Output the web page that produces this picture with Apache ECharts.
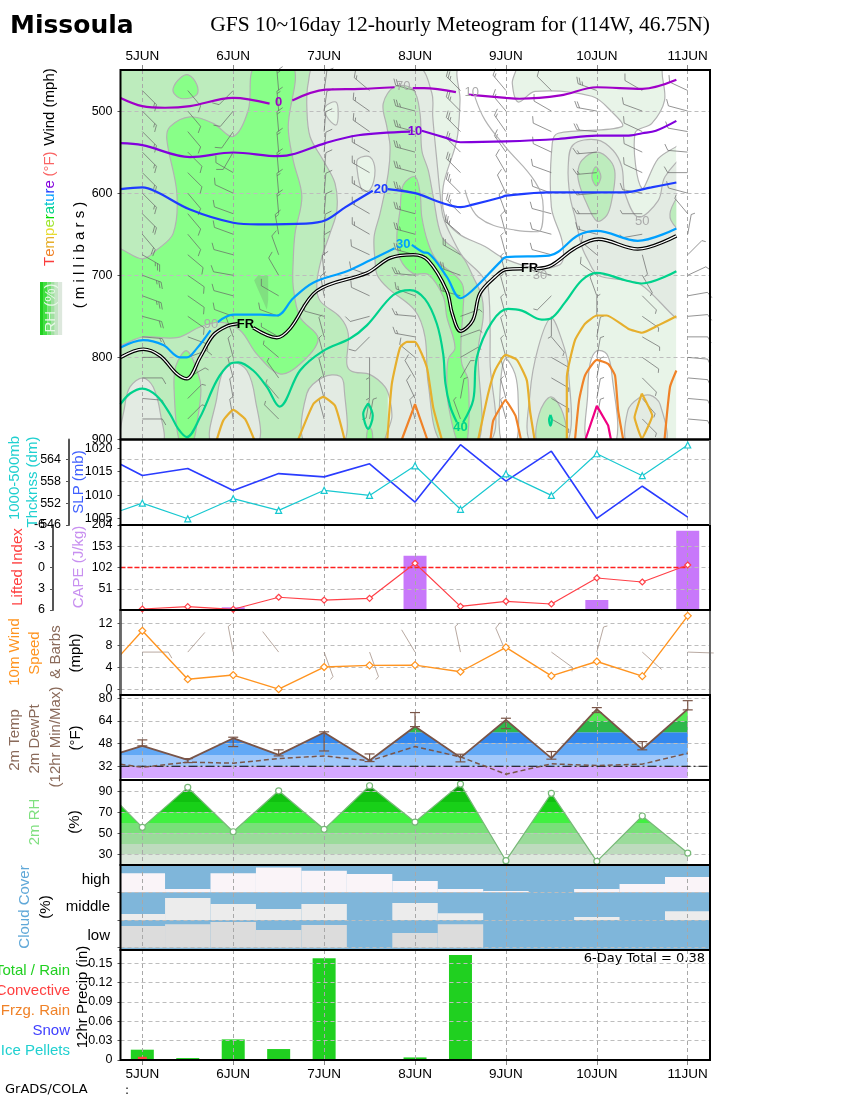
<!DOCTYPE html>
<html>
<head>
<meta charset="utf-8">
<style>html,body{margin:0;padding:0;background:#fff}#chart{width:850px;height:1100px}</style>
<script src="https://cdn.jsdelivr.net/npm/echarts@6/dist/echarts.min.js"></script>
</head>
<body>
<div id="chart"></div>
<script>
// x axis of every panel = half days since 5JUN 00Z
var T_MIN = -0.48, T_MAX = 12.49, T_EDGE = -0.48;
var dayTicks = [0, 2, 4, 6, 8, 10, 12];
var dayLabels = ['5JUN', '6JUN', '7JUN', '8JUN', '9JUN', '10JUN', '11JUN'];
var steps = [0, 1, 2, 3, 4, 5, 6, 7, 8, 9, 10, 11, 12];
var edgeSteps = [T_EDGE].concat(steps);

// ---- surface panels
var slp = [1016.6, 1014.2, 1015.7, 1011.0, 1014.6, 1013.9, 1016.7, 1008.5, 1020.8, 1013.0, 1019.4, 1005.0, 1011.9, 1005.3];
var thickness = [549.9, 552, 547.7, 553.2, 550, 555.5, 554.1, 562.2, 550.3, 560, 554.1, 565.5, 559.5, 567.9];
var liftedIndex = [5.86, 5.53, 5.9, 4.2, 4.6, 4.35, -0.6, 5.48, 4.77, 5.15, 1.48, 2.05, -0.35];
var capeSteps = [2, 6, 10, 12];
var cape = [6.5, 130, 24, 190];
var wind10m = [6.3, 10.65, 1.9, 2.65, 0.1, 4.1, 4.4, 4.45, 3.25, 7.65, 2.5, 5.1, 2.45, 13.35];
var sfcBarbDir = [90, 41, 349, 322, 160, 160, 329, 348, 337, 126, 15, 132, 92];
var sfcBarbSpeed = [10, 2, 5, 2, 5, 5, 2, 5, 10, 5, 5, 2, 2];
var temp2m = [41.6, 46.4, 36.5, 51.8, 40, 55.8, 36, 60, 38.1, 64.7, 37.7, 72.3, 44, 72.3];
var dewPt2m = [33.4, 31.3, 34.9, 34.2, 37.4, 39.3, 35.8, 45.9, 38.6, 26.4, 33.7, 32.5, 33.5, 41.2];
var tempMax = [50.6, 37.4, 52.5, 43.6, 56.3, 40.7, 69.9, 40.5, 65.9, 42.4, 73.4, 49.4, 78.3];
var tempMin = [46.4, 34.6, 45.9, 39.3, 42.8, 35.3, 60, 35.1, 58.6, 37, 69.9, 43.6, 71.8];
var tempBands = [[23.8, 32, '#d4a8ff'], [32, 40, '#a0c8fa'], [40, 48, '#62a9f6'], [48, 56, '#3388ee'], [56, 64, '#2db84a'], [64, 72, '#55e855'], [72, 80, '#a0f070']];
var rh2m = [77.1, 55.9, 94, 51.7, 90.7, 54, 95.5, 60.9, 97.1, 24.1, 88.3, 23.5, 66.7, 31.4];
var rhBands = [[20, 30, '#dde8dd'], [30, 40, '#bddbbd'], [40, 50, '#9adb9a'], [50, 60, '#78e078'], [60, 70, '#40f040'], [70, 80, '#18d018'], [80, 90, '#10c010'], [90, 100, '#0a9a0a']];
var cloudHigh = [69, 12, 69, 90, 78, 66, 41, 12, 5, 0, 12, 30, 55];
var cloudMiddle = [22, 79, 58, 40, 58, 0, 61, 24, 0, 0, 11, 0, 32];
var cloudLow = [78, 85, 93, 64, 82, 0, 53, 85, 0, 0, 0, 0, 0];
var precipSteps = [0, 1, 2, 3, 4, 6, 7];
var precipTotal = [0.016, 0.003, 0.032, 0.017, 0.158, 0.004, 0.163];
var precipConvective = [0.005];

// ---- wind barbs, one list per column
var barbLevels = [475, 500, 525, 550, 575, 600, 625, 650, 675, 700, 725, 750, 775, 800, 825, 850, 875];
var barbDir = [
  [135, 135, 135, 135, 135, 135, 135, 140, 120, 110, 110, 105, 95, 90, 90, 95, 90],
  [140, 140, 140, 135, 135, 140, 140, 140, 130, 125, 125, 125, 110, 70, 60, 45, 45],
  [225, 220, 215, 210, 300, 295, 290, 290, 285, 280, 285, 290, 340, 345, 345, 350, 350],
  [355, 355, 355, 355, 355, 355, 355, 350, 340, 330, 300, 290, 300, 310, 325, 320, 315],
  [8, 8, 5, 5, 5, 5, 5, 3, 0, 355, 350, 285, 345, 345, 345, 345, 345],
  [310, 305, 305, 300, 300, 300, 300, 300, 295, 290, 295, 255, 225, 180, 180, 190, 10],
  [285, 285, 285, 285, 285, 285, 285, 285, 285, 275, 290, 275, 280, 310, 330, 335, 345],
  [315, 315, 315, 315, 315, 315, 315, 310, 300, 290, 285, 70, 70, 60, 30, 10, 340],
  [320, 320, 325, 325, 330, 335, 340, 345, 345, 345, 345, 345, 345, 345, 345, 345, 345],
  [315, 300, 295, 295, 290, 290, 285, 285, 285, 285, 225, 180, 140, 120, 120, 120, 120],
  [290, 280, 275, 265, 265, 265, 270, 285, 310, 305, 340, 0, 10, 10, 10, 10, 10],
  [300, 290, 295, 295, 295, 280, 270, 260, 165, 150, 135, 125, 120, 125, 135, 140, 135],
  [295, 285, 280, 275, 270, 285, 320, 10, 45, 65, 80, 85, 90, 95, 95, 95, 95]
];
var barbSpeed = [
  [15, 15, 15, 15, 15, 15, 20, 20, 25, 25, 25, 20, 15, 10, 10, 10, 10],
  [10, 10, 10, 10, 10, 10, 10, 10, 10, 10, 10, 10, 10, 10, 5, 5, 5],
  [10, 10, 10, 10, 10, 10, 10, 10, 10, 10, 10, 10, 5, 5, 5, 5, 5],
  [15, 15, 15, 15, 15, 15, 15, 15, 10, 10, 10, 10, 5, 5, 5, 5, 5],
  [10, 10, 10, 10, 10, 10, 10, 10, 10, 10, 10, 10, 5, 5, 5, 5, 5],
  [15, 15, 15, 15, 15, 15, 15, 15, 10, 10, 10, 10, 10, 5, 5, 5, 5],
  [25, 25, 25, 25, 25, 25, 25, 25, 25, 25, 15, 15, 15, 10, 10, 10, 10],
  [25, 25, 25, 25, 25, 25, 25, 25, 20, 20, 15, 5, 5, 5, 5, 5, 5],
  [15, 15, 15, 15, 10, 10, 10, 10, 5, 5, 5, 5, 5, 5, 5, 5, 5],
  [10, 10, 10, 10, 10, 10, 10, 10, 10, 10, 5, 5, 5, 5, 5, 5, 5],
  [25, 20, 20, 15, 15, 15, 15, 15, 10, 10, 5, 5, 5, 5, 5, 5, 5],
  [10, 10, 10, 10, 10, 10, 5, 5, 5, 5, 5, 5, 5, 5, 5, 5, 5],
  [10, 10, 10, 10, 10, 10, 5, 5, 5, 5, 10, 10, 10, 10, 10, 10, 10]
];

// ---- temperature contours as [half day, mb], null = gap for a label
var iso0 = [[-0.48, 484], [0, 494], [0.5, 496], [1.05, 494], [2, 484], [2.8, 491], null, [3.3, 487], [4.03, 474], [4.8, 473], [5.55, 471], null, [5.95, 472], [6.2, 472], [6.9, 477], null, [7.17, 480], [8, 484], [8.3, 485], [9.2, 481], [10, 471], [11, 473], [11.75, 462]];
var iso10 = [[-0.48, 539], [0, 541.5], [1.05, 556], [2, 550.5], [3, 555], [3.36, 552], [4.03, 539], [4.75, 529.5], [5.89, 525], null, [6.15, 524], [6.7, 533], [7, 538], [8, 537], [9.15, 534], [10, 530], [10.65, 530], [11, 527], [11.3, 524], [11.75, 512]];
var iso20 = [[-0.48, 595], [0, 593], [0.3, 598], [1.05, 620], [2, 636], [2.55, 638], [3.6, 637], [4.03, 633], [4.47, 617], [5.07, 597], null, [5.4, 595], [6, 600], [6.6, 612], [7, 617], [7.27, 614], [7.9, 605], [8, 603], [8.95, 599], [10.6, 599], [11.2, 593], [11.75, 587]];
var iso30 = [[-0.48, 788], [0.02, 779], [0.46, 785], [0.83, 800], [0.98, 800], [1.2, 789], [1.5, 767], null, [1.66, 757], [2, 748], [2.6, 748], [2.96, 749], [3.32, 728], [3.76, 709], [4.5, 695], [5, 682], [5.55, 667], null, [5.93, 663], [6.18, 672], [6.29, 673], [6.7, 702], [7, 728], [7.27, 718], [7.87, 684], [8, 678], [8.95, 676], [9.6, 651], [10, 646], [10.9, 658], [11.75, 643]];
var isoFreezing = [[-0.48, 800], [0.02, 790], [0.39, 798], [0.76, 820], [0.98, 826], [1.27, 800], [1.56, 773], [1.86, 762], [2.1, 759], null, [2.44, 764], [2.96, 776], [3.25, 765], [3.84, 719], [4.95, 697], [5.45, 679], [5.96, 675], [6.29, 682], [6.7, 719], [6.82, 747], [7, 768], [7.27, 755], [7.43, 722], [7.8, 700], [8, 693], [8.36, 692], null, [8.68, 692], [9, 688], [9.52, 667], [10.03, 656], [10.9, 668], [11.75, 652]];
var iso40 = [[-0.48, 857], [-0.27, 844], [0, 838], [0.32, 847], [0.61, 869], [0.79, 887], [0.98, 897], [1.27, 873], [1.64, 828], [1.93, 808], [2.11, 806], [2.44, 816], [2.74, 836], [3.02, 860], [3.47, 816], [3.98, 792], [4.57, 777], [4.94, 761], [5.52, 724], [5.89, 718], [6.22, 729], [6.48, 759], [6.62, 796], [6.67, 832], [6.77, 859], [6.92, 879], null, [7.06, 879], [7.28, 852], [7.36, 800], [7.69, 757], [8.05, 741], [8.35, 743], [8.79, 754], [8.97, 753], [9.3, 733], [9.67, 706], [10, 697], [10.62, 706], [10.99, 710], [11.75, 695]];
var iso40LoopA = [[4.97, 856], [4.86, 869], [4.97, 887], [5.07, 871], [4.97, 856]];
var iso40LoopB = [[8.98, 870], [9.01, 876], [8.98, 883], [8.95, 876], [8.98, 870]];
var iso50a = [[1.64, 900], [1.78, 877], [2, 864], [2.26, 875], [2.46, 900]];
var iso50b = [[3.43, 900], [3.76, 857], [3.98, 848], [4.24, 859], [4.45, 900]];
var iso50c = [[5.39, 900], [5.49, 832], [5.67, 788], [5.82, 781], [6, 781], [6.26, 812], [6.4, 861], [6.59, 900]];
var iso50d = [[7.39, 900], [7.61, 844], [7.76, 816], [7.99, 797], [8.24, 803], [8.46, 828], [8.53, 865], [8.63, 900]];
var iso50e = [[9.34, 900], [9.34, 824], [9.52, 779], [9.74, 759], [10, 749], [10.22, 749], [10.69, 765], [10.99, 770], [11.35, 761], [11.75, 750]];
var iso50f = [[10.99, 844], [11.22, 871], [10.99, 899], [10.83, 873], [10.99, 844]];
var iso60a = [[5.71, 900], [6, 857], [6.27, 900]];
var iso60b = [[7.66, 900], [7.72, 877], [7.99, 852], [8.21, 871], [8.33, 900]];
var iso60c = [[9.52, 900], [9.61, 852], [9.74, 822], [10, 803], [10.25, 808], [10.4, 822], [10.47, 865], [10.58, 900]];
var iso60d = [[11.49, 900], [11.61, 836], [11.75, 816]];
var iso70 = [[9.75, 900], [10, 859], [10.25, 883], [10.31, 900]];
var rh10Line = [[7.32, 483], [7.54, 511], [7.98, 543], [8.64, 586], [8.82, 617], [8.71, 647], [8.2, 645], [7.39, 629], [7.1, 596]];

// ---- labels on the contours
var labelT = [3, 6, 5.25, 5.74, 7, 2.27, 8.52, 5.74, 7.25, 11, 8.75, 1.51];
var labelP = [490, 525, 595, 663, 885, 760, 692, 470, 477, 635, 700, 760];
var labelText = ['0', '10', '20', '30', '40', 'FR', 'FR', '70', '10', '50', '30', '90'];
var labelColor = ['#a000c8', '#8200dc', '#1e3cff', '#00a0ff', '#00d28c', '#000', '#000', '#aaa', '#aaa', '#aaa', '#aaa', '#aaa'];

// ---- relative humidity regions of the upper panel, [half day, mb]
var rhAll = [[-0.48, 450], [11.75, 450], [11.75, 900], [-0.48, 900]];
var rhWhite1 = [[6.99, 445], [8.2, 445], [8.14, 466], [8.27, 489], [8.64, 476], [9.89, 482], [10.33, 501], [10.55, 519], [9.15, 527], [9.02, 539], [9, 617], [9.23, 657], [9.26, 680], [9.15, 688], [8.71, 692], [7.98, 680], [7.54, 665], [6.95, 649], [6.66, 629], [6.62, 592], [6.92, 535], [6.99, 487]];
var rhWhite2 = [[11.46, 445], [11.9, 445], [11.9, 533], [11.35, 558], [10.99, 594], [10.84, 527], [11.21, 515], [11.49, 487]];
var rhGrey1 = [[9.37, 568], [9.48, 541], [10, 535], [10.36, 548], [10.55, 568], [10.62, 600], [10.91, 629], [11.35, 609], [11.5, 580], [11.9, 560], [11.9, 752], [10.99, 712], [10.62, 706], [10.03, 700], [9.81, 682], [9.67, 665], [9.52, 629], [9.41, 604]];
var rhMid1 = [[9.58, 576], [9.67, 560], [10, 550], [10.29, 560], [10.4, 576], [10.33, 608], [10.22, 627], [10, 634], [9.74, 608], [9.63, 592]];
var rhBright1 = [[9.89, 580], [9.98, 568], [10.09, 580], [9.99, 591]];
var rhMid2 = [[11.9, 598], [11.65, 617], [11.63, 633], [11.9, 647]];
var rhLeft = [[-0.48, 450], [5.4, 450], [5.4, 900], [-0.48, 900]];
var rhGreyMain = [[3.8, 445], [6.04, 445], [6.37, 478], [6.39, 507], [6.48, 560], [6.55, 600], [6.62, 629], [6.84, 657], [7.06, 678], [7.43, 698], [7.61, 714], [7.65, 804], [7.61, 905], [5.39, 905], [5.49, 873], [5.45, 852], [5.34, 836], [5.01, 821], [4.61, 817], [4.5, 808], [4.53, 771], [4.35, 751], [3.91, 731], [3.84, 710], [3.95, 678], [4.13, 649], [4.28, 621], [4.24, 588], [3.98, 560], [3.69, 531], [3.62, 495], [3.65, 466]];
var rhGrey2 = [[3.58, 905], [3.62, 844], [3.98, 824], [4.35, 823], [4.44, 836], [4.42, 905]];
var rhGrey3 = [[-0.43, 905], [-0.38, 857], [-0.27, 836], [0.01, 825], [0.24, 836], [0.4, 869], [0.43, 905]];
var rhGrey4 = [[1.53, 905], [1.64, 849], [1.78, 816], [2, 806], [2.3, 816], [2.48, 849], [2.53, 905]];
var rhPale1 = [[4.02, 495], [4.26, 489], [4.31, 503], [4.26, 517], [4.06, 507]];
var rhPale2 = [[4.72, 568], [4.75, 558], [5.01, 556], [5.12, 572], [5.01, 596], [4.83, 596]];
var rhMid3 = [[5.56, 470], [5.3, 491], [5.38, 519], [5.45, 543], [5.41, 576], [5.23, 625], [5.1, 653], [5.12, 682], [5.17, 700], [5.41, 716], [6, 743], [6.22, 775], [6.29, 832], [6.59, 905], [7.39, 905], [7.39, 791], [7.5, 751], [7.47, 726], [7.28, 702], [7.1, 682], [6.92, 670], [6.59, 653], [6.4, 604], [6.29, 572], [6.15, 548], [6.11, 503], [5.96, 474]];
var rhBright2 = [[6, 580], [5.74, 590], [5.67, 621], [5.6, 653], [5.67, 680], [5.96, 698], [6.29, 699], [6.62, 726], [6.7, 751], [6.88, 788], [6.73, 802], [6.7, 832], [6.73, 857], [6.95, 905], [7.14, 905], [7.17, 828], [7.03, 808], [7.01, 783], [7.06, 739], [7.06, 714], [6.92, 702], [6.48, 682], [6.29, 661], [6.15, 629], [6.11, 600]];
var rhBright3 = [[2.48, 445], [2.33, 499], [2, 531], [1.56, 515], [1.05, 507], [0.61, 519], [0.54, 535], [0.76, 600], [0.68, 649], [0.32, 669], [0, 680], [-0.6, 669], [-0.6, 783], [0.02, 775], [0.76, 776], [1.27, 763], [1.71, 757], [2.15, 767], [2.52, 796], [3.03, 820], [3.47, 808], [3.87, 777], [3.47, 751], [3.32, 714], [3.32, 682], [3.36, 649], [3.51, 604], [3.32, 560], [3.21, 519], [3.32, 445]];
var rhBright4 = [[0.83, 905], [0.7, 840], [0.74, 810], [0.98, 792], [1.23, 820], [1.29, 840], [1.21, 877], [1.09, 905]];
var rhBright5 = [[0.68, 472], [0.83, 460], [1.01, 456], [1.2, 468], [1.2, 480], [0.9, 485], [0.72, 480]];
var rhBright6 = [[4.94, 905], [4.97, 885], [5.05, 889], [5.05, 905]];
var rhDark1 = [[2.46, 706], [2.55, 700], [2.77, 700], [2.77, 730], [2.74, 742], [2.52, 714]];
var rhGrey5 = [[8.55, 905], [8.53, 844], [8.71, 788], [8.99, 752], [9.23, 779], [9.37, 812], [9.34, 905]];
var rhMid4 = [[8.71, 905], [8.73, 869], [8.99, 848], [9.26, 869], [9.3, 905]];
var rhWhite3 = [[7.91, 905], [7.87, 844], [7.98, 802], [8.2, 820], [8.27, 852], [8.22, 905]];
var rhWhite4 = [[9.8, 905], [9.8, 844], [9.85, 808], [10, 792], [10.22, 796], [10.33, 820], [10.41, 905]];
var rhGrey6 = [[10.68, 905], [10.68, 865], [10.91, 850], [11.17, 846], [11.39, 857], [11.5, 905]];
var rhRightEdge = [[11.75, 450], [12.49, 450], [12.49, 900], [11.75, 900]];

var PALE = '#e8f4e8', GREY = '#e3ebe3', MID = '#bdecbd', BRIGHT = '#88ff88', DARK = '#80e080', WHITE = '#ffffff';
var rhLayers = [
  [rhAll, PALE, false], [rhWhite1, WHITE, true], [rhWhite2, WHITE, true], [rhGrey1, GREY, true], [rhMid1, MID, true], [rhBright1, BRIGHT, true], [rhMid2, MID, true],
  [rhLeft, MID, false], [rhGreyMain, GREY, true], [rhGrey2, GREY, true], [rhGrey3, GREY, true], [rhGrey4, GREY, true], [rhPale1, PALE, true], [rhPale2, PALE, true],
  [rhMid3, MID, true], [rhBright2, BRIGHT, true], [rhBright3, BRIGHT, true], [rhBright4, BRIGHT, true], [rhBright5, BRIGHT, true], [rhBright6, BRIGHT, true], [rhDark1, DARK, false],
  [rhGrey5, GREY, true], [rhMid4, MID, true], [rhWhite3, WHITE, true], [rhWhite4, WHITE, true], [rhGrey6, GREY, true], [rhRightEdge, WHITE, false]
];

// panel layout in page pixels
var LEFT = 120.5, RIGHT = 140;
var panels = [[70, 369.5], [439.5, 85.5], [525, 85], [610, 85], [695, 85], [780, 85], [865, 85], [950, 110]];
var FONT = '"Liberation Sans", Arial, sans-serif';

function pairs(xs, ys) {
  return ys.map(function (v, i) { return [xs[i], v]; });
}

function clipHalf(pts, limit, keepBelow) {
  var out = [];
  for (var i = 0; i < pts.length; i++) {
    var a = pts[i], b = pts[(i + 1) % pts.length];
    var inA = keepBelow ? a[1] <= limit : a[1] >= limit;
    var inB = keepBelow ? b[1] <= limit : b[1] >= limit;
    if (inA) out.push(a);
    if (inA !== inB) {
      var f = (limit - a[1]) / (b[1] - a[1]);
      out.push([a[0] + f * (b[0] - a[0]), limit]);
    }
  }
  return out;
}

// the area under a curve, cut into horizontal colour bands
function bandPolygons(xs, ys, bands) {
  var res = [];
  bands.forEach(function (b) {
    var pts = pairs(xs, ys).concat([[xs[xs.length - 1], b[0]], [xs[0], b[0]]]);
    pts = clipHalf(clipHalf(pts, b[1], true), b[0], false);
    if (pts.length > 2) res.push([pts, b[2], false]);
  });
  return res;
}

function polygonSeries(layers, axis, z) {
  return {
    type: 'custom', xAxisIndex: axis[0], yAxisIndex: axis[1], z: z || 1, clip: true, silent: true,
    encode: { x: 0, y: 1 },
    data: layers.map(function (l) { return l[0][0]; }),
    renderItem: function (params, api) {
      var l = layers[params.dataIndex];
      return {
        type: 'polygon',
        shape: { points: l[0].map(function (p) { return api.coord(p); }), smooth: l[2] ? 0.35 : 0 },
        style: { fill: l[1], stroke: l[2] ? '#b2b2b2' : null, lineWidth: l[2] ? 1.2 : 0 }
      };
    }
  };
}

function contour(points, color, width, smooth, z) {
  return {
    type: 'line', xAxisIndex: 0, yAxisIndex: 0, z: z || 4, symbol: 'none', silent: true,
    smooth: smooth === undefined ? 0.35 : smooth,
    lineStyle: { color: color, width: width || 2 },
    data: points.map(function (p) { return p || [null, null]; })
  };
}

function barbLines(x, y, dir, speed, len, color) {
  var rad = dir * Math.PI / 180, dx = Math.sin(rad), dy = -Math.cos(rad);
  var ex = x + len * dx, ey = y + len * dy, out = [];
  function seg(x1, y1, x2, y2) {
    out.push({ type: 'line', shape: { x1: x1, y1: y1, x2: x2, y2: y2 }, style: { stroke: color, lineWidth: 0.7 } });
  }
  seg(x, y, ex, ey);
  var cos = 0.5, sin = 0.866, tx = dx * cos - dy * sin, ty = dx * sin + dy * cos;
  var full = Math.floor(speed / 10), half = speed % 10 >= 5 ? 1 : 0, d = 0;
  for (var i = 0; i < full; i++, d += 2.5) {
    seg(ex - d * dx, ey - d * dy, ex - d * dx + 7 * tx, ey - d * dy + 7 * ty);
  }
  if (half) seg(ex - d * dx, ey - d * dy, ex - d * dx + 4 * tx, ey - d * dy + 4 * ty);
  return out;
}

function barbSeries(data, axis, len, color) {
  return {
    type: 'custom', xAxisIndex: axis[0], yAxisIndex: axis[1], z: 3, silent: true,
    encode: { x: 0, y: 1 }, data: data,
    renderItem: function (params, api) {
      var c = api.coord([api.value(0), api.value(1)]);
      return { type: 'group', children: barbLines(c[0], c[1], api.value(2), api.value(3), len, color) };
    }
  };
}

function cloudSeries(values, base, color) {
  return {
    type: 'custom', xAxisIndex: 6, yAxisIndex: 8, z: 1, clip: true, silent: true,
    encode: { x: 0, y: 1 }, data: pairs(steps, values),
    renderItem: function (params, api) {
      var t = api.value(0), h = api.value(1) / 100;
      var a = api.coord([t - 0.5, base + h]), b = api.coord([t + 0.5, base]);
      return { type: 'rect', shape: { x: a[0], y: a[1], width: b[0] - a[0], height: b[1] - a[1] }, style: { fill: color } };
    }
  };
}

function markerLine(xs, ys, axis, color, symbol, size, width) {
  return {
    type: 'line', xAxisIndex: axis[0], yAxisIndex: axis[1], z: 4, silent: true,
    symbol: function (v) { return v[0] < 0 ? 'none' : symbol; }, symbolSize: size, showAllSymbol: true,
    lineStyle: { color: color, width: width || 1.4 },
    itemStyle: { color: '#fff', borderColor: color, borderWidth: 1.2 },
    data: pairs(xs, ys)
  };
}

// ---- axes
var grids = panels.map(function (p) {
  return { left: LEFT, right: RIGHT, top: p[0], height: p[1], show: false, containLabel: false };
});
grids[6].show = true;
grids[6].backgroundColor = '#7fb6da';
grids[6].borderWidth = 0;

var xAxes = panels.map(function (p, i) {
  var showText = i === 0 || i === 7;
  return {
    type: 'value', gridIndex: i, min: T_MIN, max: T_MAX, z: 2,
    position: i === 0 ? 'top' : 'bottom',
    axisLine: { show: false },
    axisTick: { show: showText, length: 5, customValues: dayTicks, lineStyle: { color: '#888' } },
    axisLabel: {
      show: showText, customValues: dayTicks, margin: 7, color: '#000', fontFamily: FONT, fontSize: 13.5,
      formatter: function (v) { return dayLabels[dayTicks.indexOf(v)]; }
    },
    splitLine: { show: true, lineStyle: { color: '#a8a8a8', type: [4, 3], width: 1 } }
  };
});

function yAxis(grid, min, max, values, opt) {
  opt = opt || {};
  return {
    type: 'value', gridIndex: grid, min: min, max: max, z: 2, inverse: !!opt.inverse, offset: opt.offset || 0,
    position: 'left',
    axisLine: { show: !!opt.line, onZero: false, lineStyle: { color: '#555', width: 2 } },
    axisTick: { show: true, length: 3, customValues: values, lineStyle: { color: '#555' } },
    axisLabel: {
      show: !opt.noLabel, customValues: values, margin: 8, color: '#000', fontFamily: FONT, fontSize: 12.5,
      formatter: function (v) { return String(v); }
    },
    splitLine: { show: !opt.noSplit, lineStyle: { color: '#bdbdbd', type: [4, 3], width: 1 } }
  };
}

var yAxes = [
  yAxis(0, 450, 900, [500, 600, 700, 800, 900], { inverse: true }),
  yAxis(1, 1003.6, 1021.9, [1005, 1010, 1015, 1020], { noSplit: true }),
  yAxis(1, 546, 569.4, [546, 552, 558, 564], { offset: 51.5, line: true }),
  yAxis(2, 0, 204, [51, 102, 153, 204]),
  yAxis(2, -6, 6, [-6, -3, 0, 3, 6], { inverse: true, offset: 67.5, line: true, noSplit: true }),
  yAxis(3, -0.95, 14.4, [0, 4, 8, 12]),
  yAxis(4, 22.3, 82.3, [32, 48, 64, 80]),
  yAxis(5, 20, 101, [30, 50, 70, 90]),
  yAxis(6, -0.083, 2.986, [0, 1, 2], { noLabel: true }),
  yAxis(7, 0, 0.1707, [0, 0.03, 0.06, 0.09, 0.12, 0.15])
];
yAxes[9].axisLabel.formatter = function (v) { return v === 0 ? '0' : v.toFixed(2); };

// ---- series
var barbData = [];
barbDir.forEach(function (col, c) {
  col.forEach(function (d, l) { barbData.push([steps[c], barbLevels[l], d, barbSpeed[c][l]]); });
});
var sfcBarbData = steps.map(function (t, i) { return [t, 6.8, sfcBarbDir[i], sfcBarbSpeed[i]]; });

var series = [
  polygonSeries(rhLayers, [0, 0]),
  {
    type: 'line', xAxisIndex: 0, yAxisIndex: 0, z: 3, symbol: 'none', silent: true, smooth: 0.4,
    lineStyle: { color: '#b2b2b2', width: 1.2 }, data: rh10Line
  },
  barbSeries(barbData, [0, 0], 20, '#666'),
  contour(iso0, '#a000c8', 2.2),
  contour(iso10, '#8200dc', 2.2),
  contour(iso20, '#1e3cff', 2.2),
  contour(iso30, '#00a0ff', 2.2),
  contour(isoFreezing, '#000', 3.6, 0.35, 4),
  contour(isoFreezing, '#fff', 1.2, 0.35, 5),
  contour(iso40, '#00d28c', 2.2),
  contour(iso40LoopA, '#00d28c', 2.2),
  contour(iso40LoopB, '#00d28c', 2.2),
  contour(iso50a, '#e6af2d', 2.2, 0.15),
  contour(iso50b, '#e6af2d', 2.2, 0.15),
  contour(iso50c, '#e6af2d', 2.2, 0.15),
  contour(iso50d, '#e6af2d', 2.2, 0.15),
  contour(iso50e, '#e6af2d', 2.2, 0.15),
  contour(iso50f, '#e6af2d', 2.2, 0.1),
  contour(iso60a, '#f08228', 2.2, 0),
  contour(iso60b, '#f08228', 2.2, 0.1),
  contour(iso60c, '#f08228', 2.2, 0.15),
  contour(iso60d, '#f08228', 2.2, 0.15),
  contour(iso70, '#f00082', 2.2, 0),
  {
    type: 'custom', xAxisIndex: 0, yAxisIndex: 0, z: 6, silent: true, encode: { x: 0, y: 1 },
    data: pairs(labelT, labelP),
    renderItem: function (params, api) {
      var i = params.dataIndex, c = api.coord([labelT[i], labelP[i]]);
      var grey = labelColor[i] === '#aaa';
      return {
        type: 'text', x: c[0], y: c[1],
        style: {
          text: labelText[i], fill: labelColor[i], align: 'center', verticalAlign: 'middle',
          font: (grey ? 'normal 13px ' : 'bold 13px ') + '"Liberation Sans Narrow", ' + FONT
        }
      };
    }
  },
  // SLP and thickness
  { type: 'line', xAxisIndex: 1, yAxisIndex: 1, z: 4, symbol: 'none', silent: true, lineStyle: { color: '#2a3cff', width: 1.6 }, data: pairs(edgeSteps, slp) },
  markerLine(edgeSteps, thickness, [1, 2], '#18c8d0', 'triangle', 6, 1.2),
  // CAPE and lifted index
  { type: 'bar', xAxisIndex: 2, yAxisIndex: 3, z: 1, silent: true, barWidth: 23, itemStyle: { color: '#c878fa' }, data: pairs(capeSteps, cape) },
  { type: 'line', xAxisIndex: 2, yAxisIndex: 4, z: 3, symbol: 'none', silent: true, lineStyle: { color: '#ff2020', width: 1.4, type: [5, 2] }, data: [[T_MIN, 0], [12, 0]] },
  markerLine(steps, liftedIndex, [2, 4], '#ff4048', 'diamond', 6, 1.2),
  // 10m wind
  barbSeries(sfcBarbData, [3, 5], 26, '#9a8478'),
  markerLine(edgeSteps, wind10m, [3, 5], '#ff9420', 'diamond', 7, 1.4),
  // 2m temperature
  polygonSeries(bandPolygons(edgeSteps, temp2m, tempBands), [4, 6]),
  { type: 'line', xAxisIndex: 4, yAxisIndex: 6, z: 3, symbol: 'none', silent: true, lineStyle: { color: '#000', width: 1, type: [9, 3, 2, 3] }, data: [[T_MIN, 32], [T_MAX, 32]] },
  { type: 'line', xAxisIndex: 4, yAxisIndex: 6, z: 4, symbol: 'none', silent: true, lineStyle: { color: '#7a5548', width: 1.5, type: [5, 3] }, data: pairs(edgeSteps, dewPt2m) },
  { type: 'line', xAxisIndex: 4, yAxisIndex: 6, z: 4, symbol: 'none', silent: true, lineStyle: { color: '#7a5548', width: 1.8 }, data: pairs(edgeSteps, temp2m) },
  {
    type: 'custom', xAxisIndex: 4, yAxisIndex: 6, z: 5, silent: true, encode: { x: 0, y: 1 },
    data: steps.map(function (t, i) { return [t, tempMax[i], tempMin[i]]; }),
    renderItem: function (params, api) {
      var a = api.coord([api.value(0), api.value(1)]), b = api.coord([api.value(0), api.value(2)]);
      var st = { stroke: '#7a5548', lineWidth: 1.2 };
      return {
        type: 'group', children: [
          { type: 'line', shape: { x1: a[0], y1: a[1], x2: b[0], y2: b[1] }, style: st },
          { type: 'line', shape: { x1: a[0] - 5, y1: a[1], x2: a[0] + 5, y2: a[1] }, style: st },
          { type: 'line', shape: { x1: b[0] - 5, y1: b[1], x2: b[0] + 5, y2: b[1] }, style: st }
        ]
      };
    }
  },
  // 2m RH
  polygonSeries(bandPolygons(edgeSteps, rh2m, rhBands), [5, 7]),
  markerLine(edgeSteps, rh2m, [5, 7], '#78b878', 'circle', 6, 1.2),
  // cloud cover
  cloudSeries(cloudHigh, 2, '#faf4f8'),
  cloudSeries(cloudMiddle, 1, '#ececec'),
  cloudSeries(cloudLow, 0, '#dcdcdc'),
  // precipitation
  { type: 'bar', xAxisIndex: 7, yAxisIndex: 9, z: 1, silent: true, barWidth: 23, itemStyle: { color: '#20d020' }, data: pairs(precipSteps, precipTotal) },
  {
    type: 'custom', xAxisIndex: 7, yAxisIndex: 9, z: 3, silent: true, encode: { x: 0, y: 1 },
    data: pairs([0], precipConvective),
    renderItem: function (params, api) {
      var a = api.coord([api.value(0), api.value(1)]), b = api.coord([api.value(0), 0]);
      return { type: 'rect', shape: { x: a[0] - 4.5, y: a[1], width: 9, height: b[1] - a[1] }, style: { fill: '#ff4040' } };
    }
  }
];

// ---- frames and side text
var graphics = panels.map(function (p) {
  return { type: 'rect', z: 100, silent: true, shape: { x: LEFT, y: p[0], width: 850 - LEFT - RIGHT, height: p[1] }, style: { fill: 'none', stroke: '#000', lineWidth: 2 } };
});

// the sides of the SLP and wind panels are drawn grey in the original
var greySides = [[710, 440, 525], [710, 611, 694], [LEFT, 611, 694]];
greySides.forEach(function (s) {
  graphics.push({ type: 'line', z: 100, silent: true, shape: { x1: s[0], y1: s[1], x2: s[0], y2: s[2] }, style: { stroke: '#666', lineWidth: 2 } });
});

function hText(text, x, y, color, font, align) {
  graphics.push({ type: 'text', z: 101, x: x, y: y, style: { text: text, fill: color, font: font, align: align || 'left', verticalAlign: 'middle' } });
}
function vText(text, x, y, color, size) {
  graphics.push({ type: 'text', z: 101, x: x, y: y, rotation: Math.PI / 2, style: { text: text, fill: color, font: (size || 15) + 'px ' + FONT, align: 'center', verticalAlign: 'middle' } });
}

hText('Missoula', 10, 26, '#000', 'bold 25px "DejaVu Sans"');
hText('GFS 10~16day 12-hourly Meteogram for (114W, 46.75N)', 710, 25, '#000', '21.5px "Liberation Serif"', 'right');
hText('6-Day Total = 0.38', 705, 959, '#000', '13px "DejaVu Sans"', 'right');
hText('GrADS/COLA', 5, 1090, '#000', '13px "DejaVu Sans"');
hText(':', 125, 1091, '#000', '12px "DejaVu Sans"');

var precipLegend = [['Total / Rain', '#20d020', 971], ['Convective', '#ff4040', 991], ['Frzg. Rain', '#f08228', 1011], ['Snow', '#4040ff', 1031], ['Ice Pellets', '#20d0d0', 1051]];
precipLegend.forEach(function (l) { hText(l[0], 70, l[2], l[1], '15px ' + FONT, 'right'); });

var sideLabels = [
  ['Wind (mph)', 50, 107, '#000'], ['(°F)', 50, 164, '#fa6464'], ['( m i l l i b a r s )', 80, 255, '#000'],
  ['1000-500mb', 15, 478, '#20d0d0'], ['Thcknss (dm)', 33, 482, '#20d0d0'], ['SLP (mb)', 79, 482, '#4060ff'],
  ['Lifted Index', 18, 567, '#ff4040'], ['CAPE (J/kg)', 79, 567, '#c890f0'],
  ['10m Wind', 15, 652, '#ff9420'], ['Speed', 35, 653, '#ff9420'], ['& Barbs', 56, 652, '#8a6a5a'], ['(mph)', 76, 653, '#000'],
  ['2m Temp', 15, 740, '#8a6a5a'], ['2m DewPt', 35, 739, '#8a6a5a'], ['(12hr Min/Max)', 56, 737, '#8a6a5a'], ['(°F)', 76, 738, '#000'],
  ['2m RH', 35, 822, '#80e080'], ['(%)', 75, 822, '#000'],
  ['Cloud Cover', 25, 907, '#60a8d8'], ['(%)', 46, 907, '#000'], ['12hr Precip (in)', 83, 997, '#000']
];
sideLabels.forEach(function (l) { vText(l[0], l[1], l[2], l[3]); });

var cloudLabels = [['high', 880], ['middle', 907], ['low', 936]];
cloudLabels.forEach(function (l) { hText(l[0], 110, l[1], '#000', '15px ' + FONT, 'right'); });

// rainbow word of the first side label
var tempLetters = 'Temperature'.split('');
var tempColors = ['#fa3c3c', '#f08228', '#e6af2d', '#e6dc32', '#a0e632', '#00dc00', '#00d28c', '#00c8c8', '#00a0ff', '#1e3cff', '#8200dc'];
var rainbowRich = {};
tempColors.forEach(function (c, i) { rainbowRich['c' + i] = { fill: c, font: '15px ' + FONT }; });
graphics.push({
  type: 'text', z: 101, x: 50, y: 223, rotation: Math.PI / 2,
  style: {
    text: tempLetters.map(function (c, i) { return '{c' + i + '|' + c + '}'; }).join(''),
    rich: rainbowRich, align: 'center', verticalAlign: 'middle'
  }
});

// RH colour key
var rhKeyColors = ['#20d020', '#40e040', '#70e070', '#a0e0a0', '#c4e4c4', '#dde8dd'];
rhKeyColors.forEach(function (c, i) {
  graphics.push({ type: 'rect', z: 100, silent: true, shape: { x: 40 + i * 3.67, y: 282, width: 3.8, height: 53 }, style: { fill: c } });
});
graphics.push({ type: 'text', z: 101, x: 51, y: 308, rotation: Math.PI / 2, style: { text: 'RH (%)', fill: '#e8f8e8', font: '15px ' + FONT, align: 'center', verticalAlign: 'middle' } });

var chart = echarts.init(document.getElementById('chart'));
chart.setOption({
  animation: false,
  backgroundColor: '#fff',
  grid: grids,
  xAxis: xAxes,
  yAxis: yAxes,
  series: series,
  graphic: { elements: graphics }
});
</script>
</body>
</html>
